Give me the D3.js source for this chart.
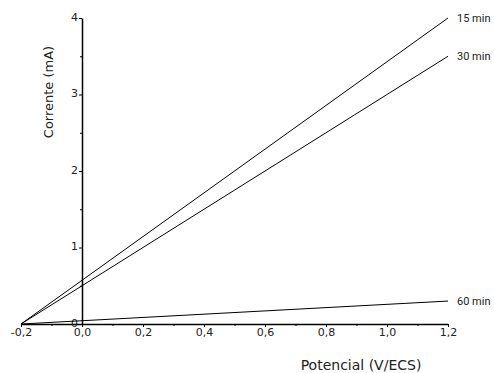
<!DOCTYPE html>
<html>
<head>
<meta charset="utf-8">
<script src="https://cdn.jsdelivr.net/npm/d3@7"></script>
<style>
  body { margin: 0; background: #fff; }
  svg text { font-family: "DejaVu Sans", Verdana, sans-serif; fill: #222; }
  svg text.serie-label { font-family: Roboto, "Liberation Sans", Arial, sans-serif; }
</style>
</head>
<body>
<svg id="svg1"></svg>
<script>
    // Data
    const potencial = [-0.2, 1.2];
    const corrente15 = [0, 4.0];
    const corrente30 = [0, 3.5];
    const corrente60 = [0, 0.3];
    const seriesLabels = ["15 min", "30 min", "60 min"];
    const xTicks = [-0.2, 0, 0.2, 0.4, 0.6, 0.8, 1.0, 1.2];
    const xMinor = [-0.1, 0.1, 0.3, 0.5, 0.7, 0.9, 1.1];
    const yTicks = [0, 1, 2, 3, 4];
    const yMinor = [0.5, 1.5, 2.5, 3.5];

    const width = 494, height = 373;

    const svg = d3.select("#svg1")
      .attr("width", width)
      .attr("height", height);

    // Scales
    const x = d3.scaleLinear().domain([-0.2, 1.2]).range([21, 448]);
    const y = d3.scaleLinear().domain([0, 4]).range([324, 18]);

    const fmt = d => d.toFixed(1).replace(".", ",");

    // X axis
    const xAxis = svg.append("g")
      .attr("transform", `translate(0,${y(0)})`)
      .call(d3.axisBottom(x).tickValues(xTicks).tickFormat(fmt).tickSize(3).tickSizeOuter(0));
    xAxis.append("g")
      .call(d3.axisBottom(x).tickValues(xMinor).tickFormat("").tickSize(2).tickSizeOuter(0))
      .select(".domain").remove();

    // Y axis, crossing at x = 0
    const yAxis = svg.append("g")
      .attr("transform", `translate(${x(0)},0)`)
      .call(d3.axisLeft(y).tickValues(yTicks).tickFormat(d3.format("d")).tickSize(3).tickSizeOuter(0));
    yAxis.append("g")
      .call(d3.axisLeft(y).tickValues(yMinor).tickFormat("").tickSize(2).tickSizeOuter(0))
      .select(".domain").remove();

    svg.selectAll(".domain").attr("stroke", "#000").attr("stroke-width", 1.5);
    svg.selectAll(".tick line").attr("stroke", "#000");
    xAxis.selectAll(".tick text").attr("font-size", 11).attr("y", 4).attr("fill", "#222");
    yAxis.selectAll(".tick text").attr("font-size", 11).attr("x", -4).attr("dy", "0.2em").attr("fill", "#222");

    // Lines
    const series = [corrente15, corrente30, corrente60];
    const line = d3.line()
      .x((d, i) => x(potencial[i]))
      .y(d => y(d));

    svg.selectAll(".serie")
      .data(series)
      .join("path")
      .attr("class", "serie")
      .attr("d", line)
      .attr("fill", "none")
      .attr("stroke", "#000")
      .attr("stroke-width", 1);

    svg.selectAll(".serie-label")
      .data(series)
      .join("text")
      .attr("class", "serie-label")
      .attr("x", x(potencial[1]) + 9)
      .attr("y", d => y(d[d.length - 1]))
      .attr("dy", "0.35em")
      .attr("font-size", 11)
      .text((d, i) => seriesLabels[i]);

    // Axis titles
    svg.append("text")
      .attr("x", 361)
      .attr("y", 370)
      .attr("text-anchor", "middle")
      .attr("font-size", 14)
      .text("Potencial (V/ECS)");

    svg.append("text")
      .attr("transform", "translate(53,92) rotate(-90)")
      .attr("text-anchor", "middle")
      .attr("font-size", 13)
      .text("Corrente (mA)");
</script>
</body>
</html>
